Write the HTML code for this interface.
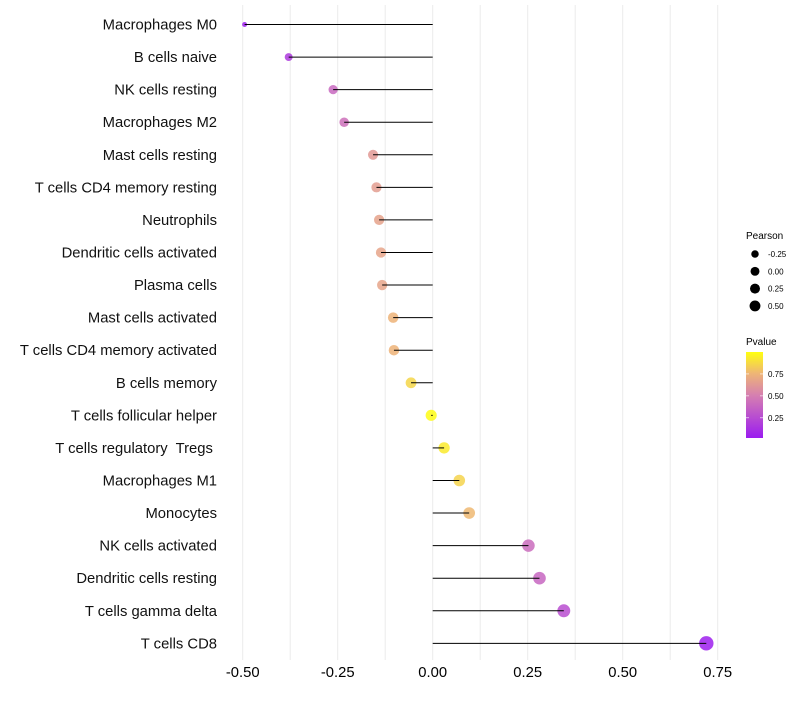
<!DOCTYPE html>
<html><head><meta charset="utf-8"><style>
body{margin:0;background:#fff;font-family:"Liberation Sans",sans-serif}
svg text{font-family:"Liberation Sans",sans-serif;white-space:pre}
</style></head><body>
<svg id="chart" width="800" height="700"></svg>
<script>
const categories=["Macrophages M0","B cells naive","NK cells resting","Macrophages M2","Mast cells resting","T cells CD4 memory resting","Neutrophils","Dendritic cells activated","Plasma cells","Mast cells activated","T cells CD4 memory activated","B cells memory","T cells follicular helper","T cells regulatory  Tregs ","Macrophages M1","Monocytes","NK cells activated","Dendritic cells resting","T cells gamma delta","T cells CD8"];
const pearson=[-0.495,-0.379,-0.262,-0.233,-0.157,-0.148,-0.141,-0.136,-0.133,-0.104,-0.102,-0.057,-0.004,0.030,0.070,0.096,0.252,0.281,0.345,0.72];
const pvalue=[0.02,0.15,0.38,0.42,0.62,0.64,0.66,0.67,0.67,0.74,0.74,0.86,0.99,0.93,0.85,0.76,0.4,0.37,0.25,0.02];
const xTicks=[-0.5,-0.25,0,0.25,0.5,0.75];
const xTickLabels=["-0.50","-0.25","0.00","0.25","0.50","0.75"];
const sizeBreaks=[-0.25,0,0.25,0.5];
const sizeLabels=["-0.25","0.00","0.25","0.50"];
const colorBreaks=[0.25,0.5,0.75];
const colorLabels=["0.25","0.50","0.75"];

const NS="http://www.w3.org/2000/svg";
const svg=document.getElementById('chart');
function mk(t,a,p){const e=document.createElementNS(NS,t);for(const k in a)e.setAttribute(k,a[k]);(p||svg).appendChild(e);return e;}
const x=v=>432.7+(v)*380;
const y=i=>24.5+i*32.57;
const r=v=>2+5.2*Math.pow(Math.max(0,(v+0.5)/1.22),0.42);
const stops=[[0,[155,28,240]],[0.5,[214,128,176]],[0.75,[238,181,118]],[1,[255,255,16]]];
function col(p){p=Math.max(0,Math.min(1,p));for(let i=1;i<stops.length;i++){if(p<=stops[i][0]){const a=stops[i-1],b=stops[i];const t=(p-a[0])/(b[0]-a[0]);const c=a[1].map((v,k)=>Math.round(v+(b[1][k]-v)*t));return `rgb(${c})`;}}return 'rgb(255,255,16)';}

for(let v=-0.5;v<=0.751;v+=0.125){
  const g=mk('line',{x1:x(v),x2:x(v),y1:5,y2:660,stroke:'#ebebeb','stroke-width':1});
  
  
}
xTicks.forEach((v,i)=>{
  const t=mk('text',{x:x(v),y:677,'text-anchor':'middle','font-size':14.8,fill:'#000'});
  t.textContent=xTickLabels[i];
  
  
});
categories.forEach((c,i)=>{
  const t=mk('text',{x:217,y:y(i)+5,'text-anchor':'end','font-size':14.8,fill:'#111'});
  t.textContent=c;
  
  
  const pt=mk('circle',{cx:x(pearson[i]),cy:y(i),r:r(pearson[i]),fill:col(pvalue[i]),'fill-opacity':0.85});
  
  
  const ln=mk('line',{x1:x(0),x2:x(pearson[i]),y1:y(i),y2:y(i),stroke:'#000','stroke-width':1});
  
  
});
let t=mk('text',{x:746,y:239,'font-size':10});t.textContent='Pearson';


sizeBreaks.forEach((v,i)=>{
  const cy=254+i*17.3;
  const c=mk('circle',{cx:755,cy:cy,r:r(v)*0.8,fill:'#000'});
  
  
  const l=mk('text',{x:768,y:cy+3,'font-size':8});l.textContent=sizeLabels[i];
  
  
});
t=mk('text',{x:746,y:345,'font-size':10});t.textContent='Pvalue';


const defs=mk('defs',{});
const gr=mk('linearGradient',{id:'pg',x1:0,y1:1,x2:0,y2:0},defs);
stops.forEach(s=>mk('stop',{offset:s[0],'stop-color':`rgb(${s[1]})`},gr));
const bar=mk('rect',{x:746,y:352,width:17,height:86,fill:'url(#pg)'});


const cy=v=>438-(v-0.02)/0.98*86;
colorBreaks.forEach((v,i)=>{
  mk('line',{x1:746,x2:749,y1:cy(v),y2:cy(v),stroke:'#fff','stroke-width':0.6});
  mk('line',{x1:760,x2:763,y1:cy(v),y2:cy(v),stroke:'#fff','stroke-width':0.6});
  const l=mk('text',{x:768,y:cy(v)+3,'font-size':8});l.textContent=colorLabels[i];
  
  
});
</script>
</body></html>
